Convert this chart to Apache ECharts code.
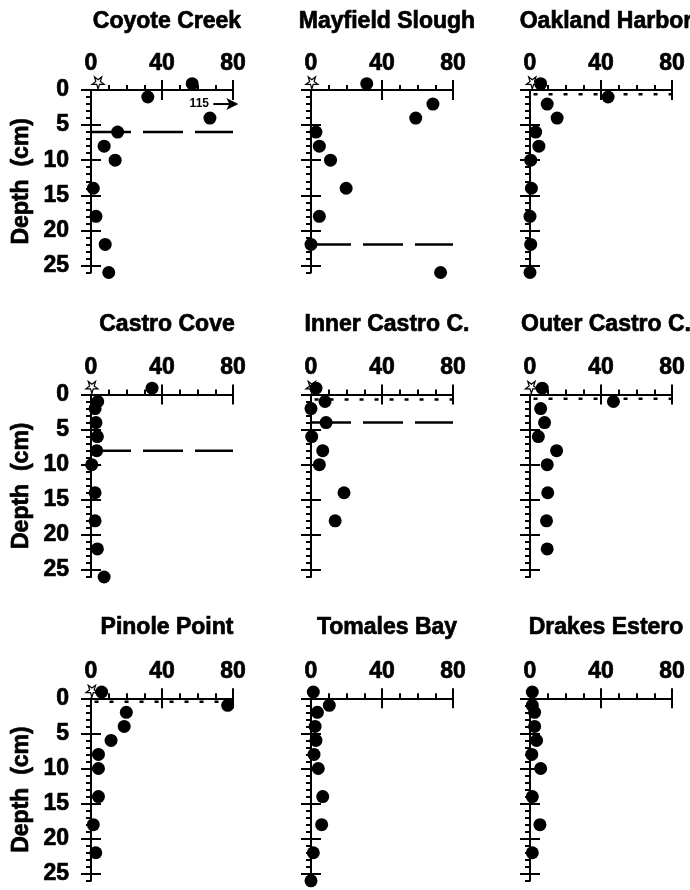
<!DOCTYPE html>
<html><head><meta charset="utf-8">
<script src="https://cdn.jsdelivr.net/npm/echarts@6/dist/echarts.min.js"></script>
<style>html,body{margin:0;padding:0;background:#fff}#c{width:690px;height:890px}</style>
</head><body><div id="c"></div>
<script>
// ---------------- data ----------------
const siteNames = ['Coyote Creek', 'Mayfield Slough', 'Oakland Harbor',
  'Castro Cove', 'Inner Castro C.', 'Outer Castro C.',
  'Pinole Point', 'Tomales Bay', 'Drakes Estero'];
// depth (cm) of each sample; first value is the surface floc sample plotted just above 0
const depthLevels = [-0.9, 1, 2, 4, 6, 8, 10, 14, 18, 22, 26];
const coyoteCreek    = [57, 32, 115, 67, 15, 7.4, 13.6, 1.3, 2.8, 8, 10];
const mayfieldSlough = [31.4, null, 68.7, 59, 2.8, 4.7, 11, 19.8, 4.7, 0, 73];
const oaklandHarbor  = [6, 44, 9.7, 15.3, 3.2, 5, 0.4, 0.8, 0, 0.4, 0];
const castroCove     = [34.4, 3.8, 2.3, 2.8, 3.6, 3.2, 0.4, 2.3, 2.3, 3.6, 7.4];
const innerCastro    = [2.8, 7.9, 0, 8.5, 0.4, 6.6, 4.7, 18.6, 13.6, null, null];
const outerCastro    = [6.9, 47, 6, 8.2, 4.7, 15, 9.7, 10, 9.3, 9.7, null];
const pinolePoint    = [6, 77, 19.9, 18.7, 11.3, 4.2, 4.2, 4.2, 1.3, 2.7, null];
const tomalesBay     = [1.3, 10.3, 3.6, 2.3, 2.8, 1.7, 4.1, 6.6, 6, 1.3, 0];
const drakesEstero   = [1.3, 1.3, 2.6, 2.6, 3.7, 1, 6, 1.3, 5.6, 1.3, null];
const siteValues = [coyoteCreek, mayfieldSlough, oaklandHarbor, castroCove,
  innerCastro, outerCastro, pinolePoint, tomalesBay, drakesEstero];
// open-star (overlying water) value at the surface
const starValue = [4, 0.5, 1.3, 0.5, 0.5, 0.8, 0.5, null, null];
const starDepth = -1;
// dashed and dotted horizon lines (depth, cm)
const dashedDepth = [6, 22, null, 8, 4, null, null, null, null];
const dottedDepth = [null, null, 0.6, null, 0.7, 0.6, 0.5, null, null];
// axes
const xMin = 0, xMax = 80;
const yMin = 0, yMax = 26;
const xTickLabels = [0, 40, 80];
const xMajorTicks = [40, 80];
const xMinorTicks = [10, 20, 30, 50, 60, 70];
const yTickLabels = [0, 5, 10, 15, 20, 25];
const yMinorTicks = [1, 2, 3, 4, 6, 7, 8, 9, 11, 12, 13, 14, 16, 17, 18, 19, 21, 22, 23, 24, 26];
const yAxisName = 'Depth  (cm)';

// ---------------- layout ----------------
const FONT = 'Liberation Sans, Arial, sans-serif';
const colLeft = [91, 311, 530];
const rowTop = [90, 394.5, 698.3];
const gridW = 142, gridH = 182.5;
const titleTop = [5, 308, 611];
const black = '#000';
const heavy = {fontFamily: FONT, fontSize: 23, fontWeight: 'bold', color: black,
  textBorderColor: black, textBorderWidth: 0.7};

const chart = echarts.init(document.getElementById('c'), null, {renderer: 'canvas'});
const grids = [], xAxes = [], yAxes = [], series = [], titles = [];

siteNames.forEach((name, i) => {
  const col = i % 3, row = Math.floor(i / 3);
  grids.push({left: colLeft[col], top: rowTop[row], width: gridW, height: gridH, outerBoundsMode: 'none'});
  titles.push({text: name, left: colLeft[col] + gridW / 2, top: titleTop[row], textAlign: 'center',
    textStyle: Object.assign({}, heavy)});
  const baseX = {gridIndex: i, type: 'value', min: xMin, max: xMax, position: 'top', splitLine: {show: false}};
  xAxes.push(Object.assign({}, baseX, {
    axisLine: {show: true, onZero: false, lineStyle: {color: black, width: 2}},
    axisTick: {show: true, customValues: xMajorTicks, length: 10, inside: false, lineStyle: {color: black, width: 2}},
    axisLabel: Object.assign({show: true, customValues: xTickLabels, margin: 15}, heavy)
  }));
  xAxes.push(Object.assign({}, baseX, {
    axisLine: {show: false},
    axisTick: {show: true, customValues: xMajorTicks, length: 10, inside: true, lineStyle: {color: black, width: 2}},
    axisLabel: {show: false}
  }));
  xAxes.push(Object.assign({}, baseX, {
    axisLine: {show: false},
    axisTick: {show: true, customValues: xMinorTicks, length: 5, inside: false, lineStyle: {color: black, width: 2}},
    axisLabel: {show: false}
  }));
  const baseY = {gridIndex: i, type: 'value', min: yMin, max: yMax, inverse: true, position: 'left', splitLine: {show: false}};
  yAxes.push(Object.assign({}, baseY, {
    axisLine: {show: true, onZero: false, lineStyle: {color: black, width: 2}},
    axisTick: {show: true, customValues: yTickLabels, length: 10, inside: false, lineStyle: {color: black, width: 2}},
    axisLabel: Object.assign({show: col === 0, customValues: yTickLabels, margin: 22}, heavy),
    name: col === 0 ? yAxisName : '', nameLocation: 'middle', nameGap: 58,
    nameTextStyle: Object.assign({}, heavy)
  }));
  yAxes.push(Object.assign({}, baseY, {
    axisLine: {show: false},
    axisTick: {show: true, customValues: yTickLabels, length: 10, inside: true, lineStyle: {color: black, width: 2}},
    axisLabel: {show: false}
  }));
  yAxes.push(Object.assign({}, baseY, {
    axisLine: {show: false},
    axisTick: {show: true, customValues: yMinorTicks, length: 5, inside: false, lineStyle: {color: black, width: 2}},
    axisLabel: {show: false}
  }));
  const xi = 3 * i, yi = 3 * i;
  const vals = siteValues[i];
  const pts = [], off = [];
  vals.forEach((v, k) => {
    if (v === null) return;
    if (v > xMax) off.push([v, depthLevels[k]]); else pts.push([v, depthLevels[k]]);
  });
  if (dashedDepth[i] !== null) {
    series.push({type: 'line', xAxisIndex: xi, yAxisIndex: yi, silent: true, z: 1, symbol: 'none', clip: false,
      lineStyle: {color: black, width: 2.5, type: [40, 12]},
      data: [[xMin, dashedDepth[i]], [xMax, dashedDepth[i]]]});
  }
  if (dottedDepth[i] !== null) {
    series.push({type: 'line', xAxisIndex: xi, yAxisIndex: yi, silent: true, z: 1, symbol: 'none', clip: false,
      lineStyle: {color: black, width: 2.5, type: [4, 11]},
      data: [[xMin + 2, dottedDepth[i]], [xMax, dottedDepth[i]]]});
  }
  if (starValue[i] !== null) {
    series.push({type: 'scatter', xAxisIndex: xi, yAxisIndex: yi, z: 2, clip: false, silent: true,
      symbol: 'path://M50,100 L39,65 L2,65 L32,43 L21,9 L50,30 L79,9 L68,43 L98,65 L61,65 Z',
      symbolSize: 12, itemStyle: {color: '#fff', borderColor: black, borderWidth: 1.2, opacity: 1},
      data: [[starValue[i], starDepth]]});
  }
  series.push({type: 'scatter', xAxisIndex: xi, yAxisIndex: yi, z: 3, clip: false, silent: true,
    symbol: 'circle', symbolSize: 13, itemStyle: {color: black, opacity: 1}, data: pts});
  off.forEach(p => {
    series.push({type: 'line', xAxisIndex: xi, yAxisIndex: yi, z: 3, clip: false, silent: true,
      symbol: 'arrow', symbolSize: [9, 12], symbolRotate: -90, showSymbol: true,
      lineStyle: {color: black, width: 2}, itemStyle: {color: black, opacity: 1},
      data: [
        {value: [xMax - 11, p[1]], symbol: 'circle', symbolSize: 1,
          label: {show: true, position: 'left', distance: 4, formatter: String(p[0]),
            fontFamily: FONT, fontSize: 12, fontWeight: 'bold', color: black}},
        {value: [xMax + 3, p[1]]}
      ]});
  });
});

chart.setOption({
  animation: false,
  backgroundColor: '#fff',
  title: titles,
  grid: grids,
  xAxis: xAxes,
  yAxis: yAxes,
  series: series
});
</script>
</body></html>
